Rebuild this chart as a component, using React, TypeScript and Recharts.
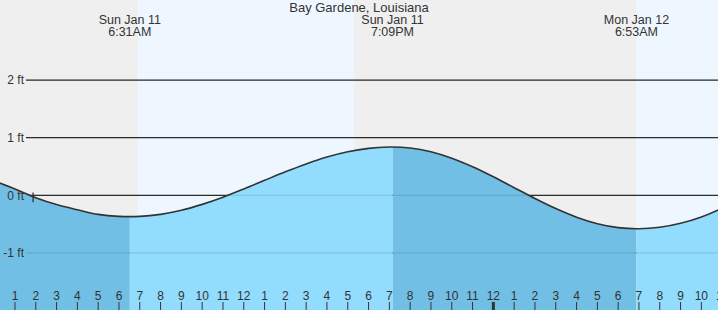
import {
  Area,
  ComposedChart,
  Line,
  ReferenceArea,
  ReferenceLine,
  XAxis,
  YAxis,
} from 'recharts';

const CHART_W = 718;
const CHART_H = 310;

const STATION = 'Bay Gardene, Louisiana';

// hours counted from midnight, Sun Jan 11
const X_MIN = 0.28;
const X_MAX = 34.8;
const Y_MIN = -1.99;
const Y_MAX = 3.39;

const hourTicks = [
  1, 2, 3, 4, 5, 6, 7, 8, 9, 10, 11, 12, 13, 14, 15, 16, 17, 18, 19, 20, 21, 22, 23, 24, 25,
  26, 27, 28, 29, 30, 31, 32, 33, 34, 35,
];

const tideHours = [
  0, 1, 2, 3, 4, 5, 6, 6.52, 7, 8, 9, 10, 11, 12, 13, 14, 15, 16, 17, 18, 19, 19.15, 20, 21, 22,
  23, 24, 25, 26, 27, 28, 29, 30, 30.88, 31, 32, 33, 34, 35,
];
const tideFeet = [
  0.25, 0.11, -0.04, -0.16, -0.25, -0.33, -0.365, -0.37, -0.366, -0.33, -0.26, -0.157, -0.032,
  0.11, 0.26, 0.408, 0.545, 0.664, 0.756, 0.815, 0.839, 0.84, 0.822, 0.755, 0.643, 0.495, 0.321,
  0.133, -0.055, -0.23, -0.379, -0.492, -0.56, -0.58, -0.58, -0.555, -0.485, -0.375, -0.225,
];

const eventHours = [6.52, 19.15, 30.88];
const eventDays = ['Sun Jan 11', 'Sun Jan 11', 'Mon Jan 12'];
const eventTimes = ['6:31AM', '7:09PM', '6:53AM'];

const nightBands = [
  [X_MIN, 6.91],
  [17.3, 30.89],
];
const dayBands = [
  [6.91, 17.3],
  [30.89, X_MAX],
];

const gridLevels = [2, 1, 0, -1];
const gridStart = 1.53;
const nowHour = 1.87;

const [low1, high1, low2] = eventHours;
const isFalling = (h: number) => h <= low1 || (h >= high1 && h <= low2);
const isRising = (h: number) => (h >= low1 && h <= high1) || h >= low2;

const data = tideHours.map((h, i) => ({
  h,
  ft: tideFeet[i],
  fall: isFalling(h) ? tideFeet[i] : null,
  rise: isRising(h) ? tideFeet[i] : null,
}));

const HourTick = ({ x, payload }: any) => {
  const h = payload.value as number;
  const label = h % 12 === 0 ? 12 : h % 12;
  return (
    <g>
      <line
        x1={x}
        x2={x}
        y1={CHART_H - 8}
        y2={CHART_H}
        stroke="#333"
        strokeWidth={h === 24 ? 3 : 1}
      />
      <text x={x} y={CHART_H - 10} textAnchor="middle" fill="#333" fontSize={12}>
        {label}
      </text>
    </g>
  );
};

const EventLabel = ({ viewBox, day, time }: any) => {
  const x = viewBox?.x ?? 0;
  return (
    <g>
      <text x={x} y={24} textAnchor="middle" fill="#333" fontSize={12.5}>
        {day}
      </text>
      <text x={x} y={36} textAnchor="middle" fill="#333" fontSize={12.5}>
        {time}
      </text>
    </g>
  );
};

const App = () => {
  return (
    <div
      style={{
        position: 'absolute',
        left: 0,
        top: 0,
        width: CHART_W,
        height: CHART_H,
        fontFamily: '"Liberation Sans", Arial, sans-serif',
      }}
    >
      <ComposedChart
        width={CHART_W}
        height={CHART_H}
        data={data}
        margin={{ top: 0, right: 0, bottom: 0, left: 0 }}
      >
        <YAxis type="number" domain={[Y_MIN, Y_MAX]} allowDataOverflow hide />

        {nightBands.map(([a, b], i) => (
          <ReferenceArea
            key={`n${i}`}
            x1={a}
            x2={b}
            y1={Y_MIN}
            y2={Y_MAX}
            fill="#efefef"
            fillOpacity={1}
            stroke="none"
            zIndex={-200}
          />
        ))}
        {dayBands.map(([a, b], i) => (
          <ReferenceArea
            key={`d${i}`}
            x1={a}
            x2={b}
            y1={Y_MIN}
            y2={Y_MAX}
            fill="#eef7ff"
            fillOpacity={1}
            stroke="none"
            zIndex={-200}
          />
        ))}

        {gridLevels.map((v) => (
          <ReferenceLine
            key={`g${v}`}
            segment={[
              { x: gridStart, y: v },
              { x: X_MAX, y: v },
            ]}
            stroke="#333"
            strokeWidth={1.3}
            zIndex={50}
            label={{
              value: `${v} ft`,
              position: 'left',
              offset: 2,
              fill: '#333',
              fontSize: 12,
            }}
          />
        ))}

        <Area
          dataKey="fall"
          type="monotone"
          baseValue={Y_MIN}
          stroke="none"
          fill="#71bfe5"
          fillOpacity={1}
          isAnimationActive={false}
          dot={false}
          activeDot={false}
        />
        <Area
          dataKey="rise"
          type="monotone"
          baseValue={Y_MIN}
          stroke="none"
          fill="#92dcfe"
          fillOpacity={1}
          isAnimationActive={false}
          dot={false}
          activeDot={false}
        />

        {gridLevels.map((v) => (
          <ReferenceLine
            key={`f${v}`}
            segment={[
              { x: gridStart, y: v },
              { x: X_MAX, y: v },
            ]}
            stroke="#000"
            strokeOpacity={0.1}
            strokeWidth={1.3}
            zIndex={150}
          />
        ))}

        <Line
          dataKey="ft"
          type="monotone"
          stroke="#333"
          strokeWidth={1.6}
          dot={false}
          activeDot={false}
          isAnimationActive={false}
        />

        <ReferenceLine
          segment={[
            { x: nowHour, y: 0.05 },
            { x: nowHour, y: -0.12 },
          ]}
          stroke="#333"
          strokeWidth={1.3}
          zIndex={450}
        />

        {eventHours.map((h, i) => (
          <ReferenceLine
            key={`e${i}`}
            x={h}
            stroke="none"
            zIndex={2000}
            label={<EventLabel day={eventDays[i]} time={eventTimes[i]} />}
          />
        ))}

        <XAxis
          dataKey="h"
          type="number"
          domain={[X_MIN, X_MAX]}
          allowDataOverflow
          ticks={hourTicks}
          mirror
          height={30}
          axisLine={false}
          tickLine={false}
          tick={<HourTick />}
          interval={0}
        />
      </ComposedChart>
      <div
        style={{
          position: 'absolute',
          left: 0,
          top: 0,
          width: CHART_W,
          textAlign: 'center',
          fontSize: 13,
          lineHeight: '15px',
          color: '#333',
          pointerEvents: 'none',
        }}
      >
        {STATION}
      </div>
    </div>
  );
};

export default App;
